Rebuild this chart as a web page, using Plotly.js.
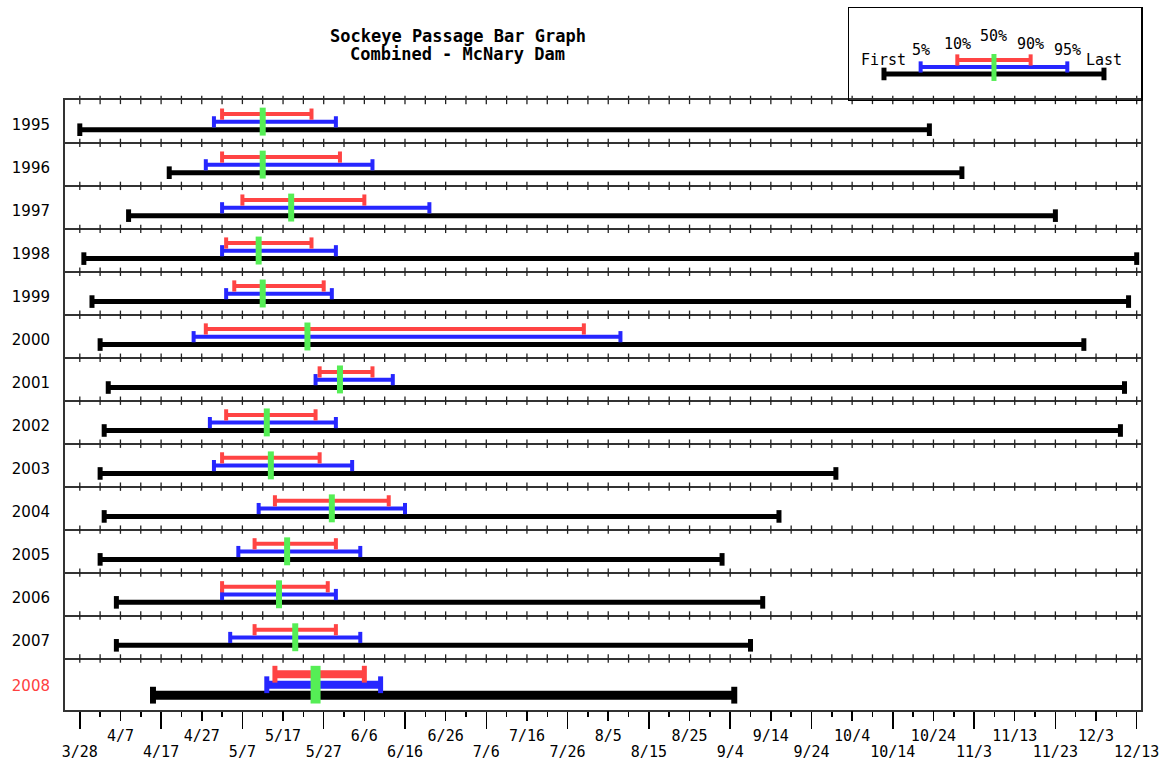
<!DOCTYPE html>
<html>
<head>
<meta charset="utf-8">
<script src="https://cdn.plot.ly/plotly-3.0.1.min.js"></script>
<style>html,body{margin:0;padding:0;background:#fff;}#chart{width:1161px;height:763px;}</style>
</head>
<body>
<div id="chart"></div>
<script>
// ---- data (month/day) ----
const years = [1995,1996,1997,1998,1999,2000,2001,2002,2003,2004,2005,2006,2007,2008];
const firstDay = ['3/28','4/19','4/9','3/29','3/31','4/2','4/4','4/3','4/2','4/3','4/2','4/6','4/6','4/15'];
const pct5  = ['4/30','4/28','5/2','5/2','5/3','4/25','5/25','4/29','4/30','5/11','5/6','5/2','5/4','5/13'];
const pct10 = ['5/2','5/2','5/7','5/3','5/5','4/28','5/26','5/3','5/2','5/15','5/10','5/2','5/10','5/15'];
const pct50 = ['5/12','5/12','5/19','5/11','5/12','5/23','5/31','5/13','5/14','5/29','5/18','5/16','5/20','5/25'];
const pct90 = ['5/24','5/31','6/6','5/24','5/27','7/30','6/8','5/25','5/26','6/12','5/30','5/28','5/30','6/6'];
const pct95 = ['5/30','6/8','6/22','5/30','5/29','8/8','6/13','5/30','6/3','6/16','6/5','5/30','6/5','6/10'];
const lastDay = ['10/23','10/31','11/23','12/13','12/11','11/30','12/10','12/9','9/30','9/16','9/2','9/12','9/9','9/5'];
const highlightYear = 2008;
const titleLines = ['Sockeye Passage Bar Graph', 'Combined - McNary Dam'];
const legendLabels = ['First','5%','10%','50%','90%','95%','Last'];
const axisStart = '3/28', axisEnd = '12/13';

// ---- helpers ----
const cum = [0,31,59,90,120,151,181,212,243,273,304,334];
function doy(s){ const [m,d] = s.split('/').map(Number); return cum[m-1] + d; }
function md(n){ let m = 11; while (cum[m] >= n) m--; return (m+1) + '/' + (n - cum[m]); }

const RED = '#ff4444', BLUE = '#2626ff', GREEN = '#55ee55', BLACK = '#000000';
const x0 = doy(axisStart), x1 = doy(axisEnd);
const xRange = [x0 - 3.64, x1 + 1.06];
const nRows = years.length;
const yMax = 14.198;

function geom(i){
  if (years[i] === highlightYear) {
    return {top:i, red:.365, blue:.61, black:.853, g0:.17, g1:1.047, label:.63};
  }
  return {top:i, red:.33, blue:.51, black:.693, g0:.18, g1:.83, label:.58};
}

function seg(xs, ys, color, w, capSize, capW, xa, ya){
  return {type:'scatter', mode:'lines+markers', x:xs, y:ys, xaxis:xa||'x', yaxis:ya||'y',
    line:{color:color, width:w}, connectgaps:false, hoverinfo:'skip', cliponaxis:false,
    marker:{symbol:'line-ns', size:capSize, color:color, line:{color:color, width:capW}}};
}
function vline(xs, ys, color, w, xa, ya){
  return {type:'scatter', mode:'lines', x:xs, y:ys, xaxis:xa||'x', yaxis:ya||'y',
    line:{color:color, width:w}, connectgaps:false, hoverinfo:'skip'};
}

const traces = [];

// separator tick marks across each row boundary
const sx = [], sy = [];
for (let b = 0; b < nRows; b++) {
  for (let d = x0; d <= x1; d += 5) { sx.push(d); sy.push(b); }
}
traces.push({type:'scatter', mode:'markers', x:sx, y:sy, hoverinfo:'skip', cliponaxis:false,
  marker:{symbol:'line-ns', size:6, color:'#222', line:{color:'#222', width:1.3}}});

// build bar series
function build(highlight){
  const B={x:[],y:[]}, U={x:[],y:[]}, R={x:[],y:[]}, G={x:[],y:[]};
  years.forEach((yr,i)=>{
    if ((yr === highlightYear) !== highlight) return;
    const g = geom(i);
    B.x.push(doy(firstDay[i]), doy(lastDay[i]), null); B.y.push(g.top+g.black, g.top+g.black, null);
    U.x.push(doy(pct5[i]), doy(pct95[i]), null); U.y.push(g.top+g.blue, g.top+g.blue, null);
    R.x.push(doy(pct10[i]), doy(pct90[i]), null); R.y.push(g.top+g.red, g.top+g.red, null);
    G.x.push(doy(pct50[i]), doy(pct50[i]), null); G.y.push(g.top+g.g0, g.top+g.g1, null);
  });
  return {B,U,R,G};
}
const n = build(false), h = build(true);
traces.push(seg(n.B.x, n.B.y, BLACK, 5, 9, 5));
traces.push(seg(n.U.x, n.U.y, BLUE, 4, 8, 4));
traces.push(seg(n.R.x, n.R.y, RED, 4, 8, 4));
traces.push(vline(n.G.x, n.G.y, GREEN, 6));
traces.push(seg(h.B.x, h.B.y, BLACK, 9, 12, 6));
traces.push(seg(h.U.x, h.U.y, BLUE, 8, 12, 5));
traces.push(seg(h.R.x, h.R.y, RED, 8, 12, 5));
traces.push(vline(h.G.x, h.G.y, GREEN, 10));

// invisible trace so the overlay axis (medium ticks/upper labels) exists
traces.push({type:'scatter', mode:'markers', x:[x0], y:[0], xaxis:'x3', yaxis:'y',
  marker:{opacity:0}, hoverinfo:'skip'});

// legend key (its own small axes)
const L = [0,1,2,3,4,5,6];
const lv = {black:66, blue:59, red:52, g0:46, g1:73};
traces.push(seg([L[0],L[6]], [lv.black,lv.black], BLACK, 5, 9, 5, 'x2', 'y2'));
traces.push(seg([L[1],L[5]], [lv.blue,lv.blue], BLUE, 4, 8, 4, 'x2', 'y2'));
traces.push(seg([L[2],L[4]], [lv.red,lv.red], RED, 4, 8, 4, 'x2', 'y2'));
traces.push(vline([L[3],L[3]], [lv.g0,lv.g1], GREEN, 5, 'x2', 'y2'));
const labelLevels = [52,42,36,28,36,42,52];

// ticks
const longTicks = [], mediumTicks = [];
for (let d = x0; d <= x1; d += 20) longTicks.push(d);
for (let d = x0 + 10; d < x1; d += 20) mediumTicks.push(d);

const yTickVals = years.map((y,i)=>{ const g = geom(i); return g.top + g.label; });
const yTickText = years.map(y => y === highlightYear ? '<span style="color:#ff4040">'+y+'</span>' : String(y));
const boundaries = []; for (let b = 1; b < nRows; b++) boundaries.push(b);

const monoFont = {family:'DejaVu Sans Mono', size:15, color:'#000'};
const hidden = {showticklabels:false, ticks:'', showgrid:false, zeroline:false};

const mainFrac = 610.5/702.5;
const annotations = legendLabels.map((t,i)=>({xref:'x2', yref:'y2', x:L[i], y:labelLevels[i],
  text:t, showarrow:false, font:monoFont, xanchor:'center', yanchor:'middle'}));
annotations.push({xref:'paper', yref:'paper', x:0.365, y:(710.5-36)/702.5, text:titleLines[0], showarrow:false,
  font:{family:'DejaVu Sans Mono', size:17, color:'#000', weight:700}, xanchor:'center', yanchor:'middle'});
annotations.push({xref:'paper', yref:'paper', x:0.365, y:(710.5-54)/702.5, text:titleLines[1], showarrow:false,
  font:{family:'DejaVu Sans Mono', size:17, color:'#000', weight:700}, xanchor:'center', yanchor:'middle'});

const layout = {
  width:1161, height:763, margin:{l:65, r:20, t:8, b:52.5, pad:0},
  paper_bgcolor:'#fff', plot_bgcolor:'#fff', showlegend:false,
  xaxis:{domain:[0,1], anchor:'y', range:xRange, tickmode:'array', tickvals:longTicks,
    ticktext:longTicks.map(md), ticks:'outside', ticklen:17, tickwidth:1.5, tickcolor:'#000',
    showline:true, linecolor:'#333', linewidth:2, mirror:true, showgrid:false, zeroline:false,
    tickfont:monoFont, ticklabelstandoff:10,
    minor:{tickmode:'linear', tick0:x0, dtick:5, ticks:'outside', ticklen:5, tickwidth:1.5, tickcolor:'#000', showgrid:false}},
  xaxis3:{overlaying:'x', anchor:'y', side:'bottom', range:xRange, tickmode:'array', tickvals:mediumTicks,
    ticktext:mediumTicks.map(md), ticks:'outside', ticklen:10, tickwidth:1.5, tickcolor:'#000',
    showline:false, showgrid:false, zeroline:false, tickfont:monoFont, ticklabelstandoff:2},
  yaxis:{domain:[0,mainFrac], anchor:'x', range:[yMax,0], tickmode:'array', tickvals:yTickVals, ticktext:yTickText,
    ticks:'', showline:true, linecolor:'#333', linewidth:2, mirror:true, showgrid:false, zeroline:false,
    tickfont:{family:'DejaVu Sans', size:15, color:'#000'}, ticklabelstandoff:10,
    minor:{tickmode:'array', tickvals:boundaries, showgrid:true, gridcolor:'#333', gridwidth:2, ticks:''}},
  xaxis2:Object.assign({domain:[(849-65)/1076,1], anchor:'y2', range:[-0.954,7.01],
    showline:true, mirror:true, linecolor:'#000', linewidth:1.5}, hidden),
  yaxis2:Object.assign({domain:[mainFrac,1], anchor:'x2', range:[92,0],
    showline:true, mirror:true, linecolor:'#000', linewidth:1.5}, hidden),
  annotations:annotations
};

Plotly.newPlot('chart', traces, layout, {displayModeBar:false, staticPlot:true});
</script>
</body>
</html>
